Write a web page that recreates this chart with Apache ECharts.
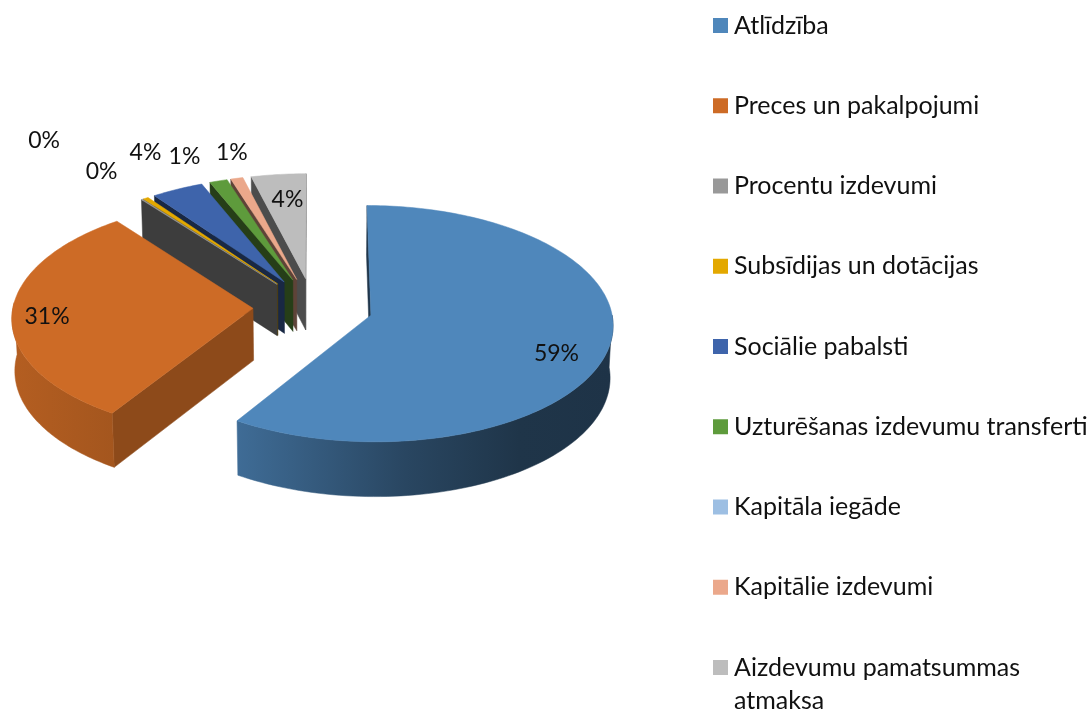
<!DOCTYPE html>
<html>
<head>
<meta charset="utf-8">
<title>Izdevumu struktūra</title>
<script src="https://cdn.jsdelivr.net/npm/echarts@6/dist/echarts.min.js"></script>
<style>
  html, body { margin: 0; padding: 0; background: #fff; }
  #chart { width: 1090px; height: 709px; }
</style>
</head>
<body>
<div id="chart"></div>
<script>
// Data
var categories = ['Atlīdzība', 'Preces un pakalpojumi', 'Procentu izdevumi', 'Subsīdijas un dotācijas',
  'Sociālie pabalsti', 'Uzturēšanas izdevumu transferti', 'Kapitāla iegāde', 'Kapitālie izdevumi',
  'Aizdevumu pamatsummas atmaksa'];
var shares = [59, 30.5, 0.1, 0.4, 3.8, 1.3, 0, 0.9, 4];

// Styles
var colors = ['#4f87bb', '#cd6b26', '#999999', '#e3a800', '#3e64ab', '#5e9b3c', '#9dbfe3', '#eba88b', '#bdbdbd'];
var labelNudge = [[-52, 5], [35, 3], [-98, -59], [-44, -27], [-32, -37], [-34, -24], [0, 0], [-5, -26], [9, 25]];
var fontName = 'Lato';

// Fake 3D view of the pie
var view = { cx: 313, cy: 307, radius: 240, explode: 60, height: 60, tilt: 29 * Math.PI / 180, persp: 0.082 / 240 };

var total = shares.reduce(function (a, b) { return a + b; }, 0);
var startAngles = [];
shares.reduce(function (sum, v, i) { startAngles[i] = sum / total * Math.PI * 2; return sum + v; }, 0);

function project(u, v, z) {
  var p = 1 / (1 + view.persp * (v * Math.cos(view.tilt) - z * Math.sin(view.tilt)));
  return [view.cx + u * p, view.cy - (v * Math.sin(view.tilt) + z * Math.cos(view.tilt)) * p];
}

function shade(hex, f) {
  var n = parseInt(hex.slice(1), 16);
  var r = Math.round((n >> 16 & 255) * f), g = Math.round((n >> 8 & 255) * f), b = Math.round((n & 255) * f);
  return 'rgb(' + r + ',' + g + ',' + b + ')';
}

function signedArea(pts) {
  var s = 0;
  for (var i = 0; i < pts.length; i++) {
    var a = pts[i], b = pts[(i + 1) % pts.length];
    s += a[0] * b[1] - b[0] * a[1];
  }
  return s;
}

function poly(pts, fill) {
  return { type: 'polygon', shape: { points: pts }, style: { fill: fill, stroke: fill, lineWidth: 0.5 } };
}

function renderSlice(index, api) {
  var value = api.value(0);
  if (!value) return { type: 'group', children: [] };
  var a0 = startAngles[index], a1 = a0 + value / total * Math.PI * 2, mid = (a0 + a1) / 2;
  var ou = view.explode * Math.sin(mid), ov = view.explode * Math.cos(mid);
  var color = colors[index], children = [];

  function rim(a, z) {
    return project(ou + view.radius * Math.sin(a), ov + view.radius * Math.cos(a), z);
  }
  var h = -view.height;
  var steps = Math.max(2, Math.ceil((a1 - a0) / 0.02));
  var top = [project(ou, ov, 0)];
  for (var i = 0; i <= steps; i++) top.push(rim(a0 + (a1 - a0) * i / steps, 0));

  // flat side walls, only those turned towards the viewer
  var endWall = [project(ou, ov, 0), rim(a1, 0), rim(a1, h), project(ou, ov, h)];
  var startWall = [project(ou, ov, 0), rim(a0, 0), rim(a0, h), project(ou, ov, h)];
  if (signedArea(endWall) > 0) children.push(poly(endWall, shade(color, 0.4)));
  if (signedArea(startWall) < 0) children.push(poly(startWall, shade(color, Math.cos(a0) < 0 ? 0.69 : 0.4)));

  // outer curved wall, front half only
  var from = Math.max(a0, Math.PI / 2), to = Math.min(a1, Math.PI * 1.5 + 0.05);
  if (to > from) {
    var upper = [], lower = [];
    for (var j = 0; j <= 80; j++) {
      var a = from + (to - from) * j / 80;
      upper.push(rim(a, 0));
      lower.unshift(rim(a, h));
    }
    var fill = index === 0
      ? new echarts.graphic.LinearGradient(0, 0, 1, 0, [
          { offset: 0, color: shade(color, 0.8) }, { offset: 0.45, color: shade(color, 0.52) }, { offset: 0.75, color: shade(color, 0.39) }, { offset: 1, color: shade(color, 0.38) }])
      : new echarts.graphic.LinearGradient(0, 0, 1, 0, [
          { offset: 0, color: shade(color, 0.88) }, { offset: 1, color: shade(color, 0.8) }]);
    children.push(poly(upper.concat(lower), fill));
  }

  children.push(poly(top, color));

  // percentage label, placed from the middle of the slice's rim
  var anchor = rim(mid, 0), nudge = labelNudge[index];
  children.push({
    type: 'text',
    z2: 10,
    style: {
      x: anchor[0] + nudge[0], y: anchor[1] + nudge[1],
      text: Math.round(value / total * 100) + '%',
      font: '23px ' + fontName, fill: '#111', align: 'center', verticalAlign: 'middle'
    }
  });
  return { type: 'group', children: children };
}

var myChart = echarts.init(document.getElementById('chart'), null, { renderer: 'canvas' });

var option = {
  backgroundColor: '#fff',
  animation: false,
  legend: {
    orient: 'vertical',
    left: 713,
    top: 13,
    padding: 0,
    selectedMode: false,
    icon: 'rect',
    itemWidth: 15,
    itemHeight: 15,
    itemGap: 55.25,
    data: categories,
    formatter: function (name) { return name.replace(' atmaksa', ''); },
    textStyle: { fontFamily: fontName, fontSize: 25, color: '#111', lineHeight: 22, padding: [0, 0, 0, 1] }
  },
  graphic: [{
    type: 'text', left: 734, top: 688,
    style: { text: 'atmaksa', font: '25px ' + fontName, fill: '#111' }
  }],
  series: categories.map(function (name, i) {
    return {
      type: 'custom',
      name: name,
      coordinateSystem: 'none',
      silent: true,
      z: i < 2 ? 20 + i : 10 - i,
      itemStyle: { color: colors[i] },
      data: [[shares[i]]],
      renderItem: function (params, api) { return renderSlice(i, api); }
    };
  })
};

myChart.setOption(option);
</script>
</body>
</html>
